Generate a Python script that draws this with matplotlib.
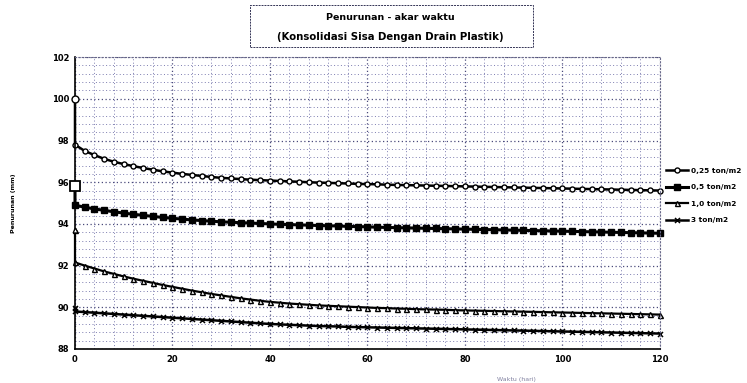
import numpy as np
import matplotlib
matplotlib.use("Agg")
import matplotlib.pyplot as plt
from matplotlib.patches import Rectangle
from matplotlib.ticker import MultipleLocator

# time axis (hari), one reading every 2 days
t = np.arange(0, 121, 2)

labels = ["0,25 ton/m2", "0,5 ton/m2", "1,0 ton/m2", "3 ton/m2"]
start = [100.0, 95.8, 93.7, 89.95]   # value at t=0 before the first drop

s1 = [97.8, 97.5, 97.3, 97.12, 96.98, 96.87, 96.77, 96.68, 96.6, 96.52, 96.46, 96.4, 96.35,
      96.3, 96.25, 96.21, 96.18, 96.15, 96.12, 96.1, 96.08, 96.06, 96.04, 96.02, 96.0, 95.98,
      95.97, 95.95, 95.94, 95.92, 95.91, 95.9, 95.88, 95.87, 95.86, 95.85, 95.84, 95.83, 95.82,
      95.81, 95.8, 95.79, 95.78, 95.77, 95.76, 95.75, 95.74, 95.73, 95.72, 95.71, 95.7, 95.69,
      95.68, 95.67, 95.66, 95.65, 95.64, 95.63, 95.62, 95.61, 95.6]
s2 = [94.9, 94.8, 94.72, 94.65, 94.58, 94.52, 94.46, 94.41, 94.36, 94.31, 94.27, 94.23, 94.19,
      94.16, 94.13, 94.1, 94.08, 94.06, 94.04, 94.02, 94.0, 93.98, 93.97, 93.95, 93.94, 93.92,
      93.91, 93.9, 93.88, 93.87, 93.86, 93.84, 93.83, 93.82, 93.81, 93.8, 93.79, 93.78, 93.77,
      93.76, 93.75, 93.74, 93.73, 93.72, 93.71, 93.7, 93.69, 93.68, 93.67, 93.66, 93.65, 93.64,
      93.63, 93.62, 93.61, 93.6, 93.59, 93.58, 93.57, 93.56, 93.55]
s3 = [92.15, 92.0, 91.86, 91.72, 91.6, 91.48, 91.37, 91.27, 91.17, 91.07, 90.98, 90.89, 90.8,
      90.72, 90.64, 90.57, 90.5, 90.43, 90.37, 90.31, 90.26, 90.22, 90.18, 90.15, 90.12, 90.09,
      90.07, 90.05, 90.03, 90.01, 89.99, 89.97, 89.96, 89.94, 89.93, 89.91, 89.9, 89.89, 89.88,
      89.86, 89.85, 89.84, 89.83, 89.82, 89.81, 89.8, 89.79, 89.78, 89.77, 89.76, 89.75, 89.74,
      89.73, 89.72, 89.71, 89.7, 89.69, 89.68, 89.67, 89.66, 89.65]
s4 = [89.8, 89.77, 89.74, 89.71, 89.68, 89.65, 89.62, 89.59, 89.56, 89.53, 89.5, 89.47, 89.44,
      89.41, 89.38, 89.35, 89.32, 89.29, 89.26, 89.23, 89.2, 89.18, 89.16, 89.14, 89.12, 89.1,
      89.09, 89.08, 89.06, 89.05, 89.04, 89.03, 89.02, 89.01, 89.0, 88.99, 88.98, 88.97, 88.96,
      88.95, 88.94, 88.93, 88.92, 88.91, 88.9, 88.89, 88.88, 88.87, 88.86, 88.85, 88.84, 88.83,
      88.82, 88.81, 88.8, 88.79, 88.78, 88.77, 88.76, 88.75, 88.74]
series = [s1, s2, s3, s4]

styles = [dict(marker="o", ms=3.6, mfc="white", mew=1.0, lw=1.8),
          dict(marker="s", ms=4.2, mfc="black", mew=1.0, lw=2.2),
          dict(marker="^", ms=3.6, mfc="white", mew=1.0, lw=1.6),
          dict(marker="x", ms=3.6, mew=1.1, lw=1.8)]
start_mk = [dict(marker="o", ms=5, mfc="white", mew=1.0),
            dict(marker="s", ms=7, mfc="white", mew=1.3),
            dict(marker="^", ms=3.5, mfc="white", mew=0.9),
            dict(marker="x", ms=3.5, mew=0.9)]

fig = plt.figure(figsize=(7.47, 3.83), dpi=100)
ax = fig.add_axes([0.1004, 0.0888, 0.783, 0.762])

ax.xaxis.set_major_locator(MultipleLocator(20))
ax.xaxis.set_minor_locator(MultipleLocator(4))
ax.yaxis.set_major_locator(MultipleLocator(2))
ax.yaxis.set_minor_locator(MultipleLocator(0.4))
ax.grid(which="major", color="#4a4a7a", ls=(0, (1, 2)), lw=0.9)
ax.grid(which="minor", color="#7c7cb0", ls=(0, (1, 2.5)), lw=0.7)
ax.set_axisbelow(True)

for vals, lab, st, s0, sm in zip(series, labels, styles, start, start_mk):
    ax.plot([0] + list(t), [s0] + vals, color="black", label=lab, clip_on=False, **st)
    ax.plot([0], [s0], color="black", ls="none", clip_on=False, zorder=5, **sm)

ax.set_xlim(0, 120)
ax.set_ylim(88, 102)
ax.tick_params(which="both", length=0, labelsize=6, pad=4)
for lb in ax.get_xticklabels() + ax.get_yticklabels():
    lb.set_fontweight("bold")
for sp in ["top", "right"]:
    ax.spines[sp].set_linestyle((0, (1, 2)))
    ax.spines[sp].set_color("#666688")
for sp in ["left", "bottom"]:
    ax.spines[sp].set_linewidth(1.2)

ax.set_ylabel("Penurunan (mm)", fontsize=4.5, fontweight="bold", labelpad=26)
ax.set_xlabel("Waktu (hari)", fontsize=4.5, color="#8080a0", labelpad=6)
ax.xaxis.set_label_coords(0.755, -0.095)

leg = fig.legend(loc="center left", bbox_to_anchor=(0.888, 0.49), frameon=False,
                 fontsize=5.3, handlelength=3.0, labelspacing=1.4, handletextpad=0.3,
                 borderaxespad=0)
for txt in leg.get_texts():
    txt.set_fontweight("bold")

# title box
fig.patches.append(Rectangle((250 / 747, 1 - 47 / 383), 283 / 747, 42 / 383,
                             transform=fig.transFigure, fill=False, ec="#333355", lw=0.7,
                             ls=(0, (2, 1))))
fig.text(390 / 747, 1 - 18 / 383, "Penurunan - akar waktu", ha="center", va="center",
         fontsize=6.8, fontweight="bold")
fig.text(390 / 747, 1 - 37 / 383, "(Konsolidasi Sisa Dengan Drain Plastik)", ha="center",
         va="center", fontsize=7.3, fontweight="bold")

plt.savefig("out.png", dpi=100)
